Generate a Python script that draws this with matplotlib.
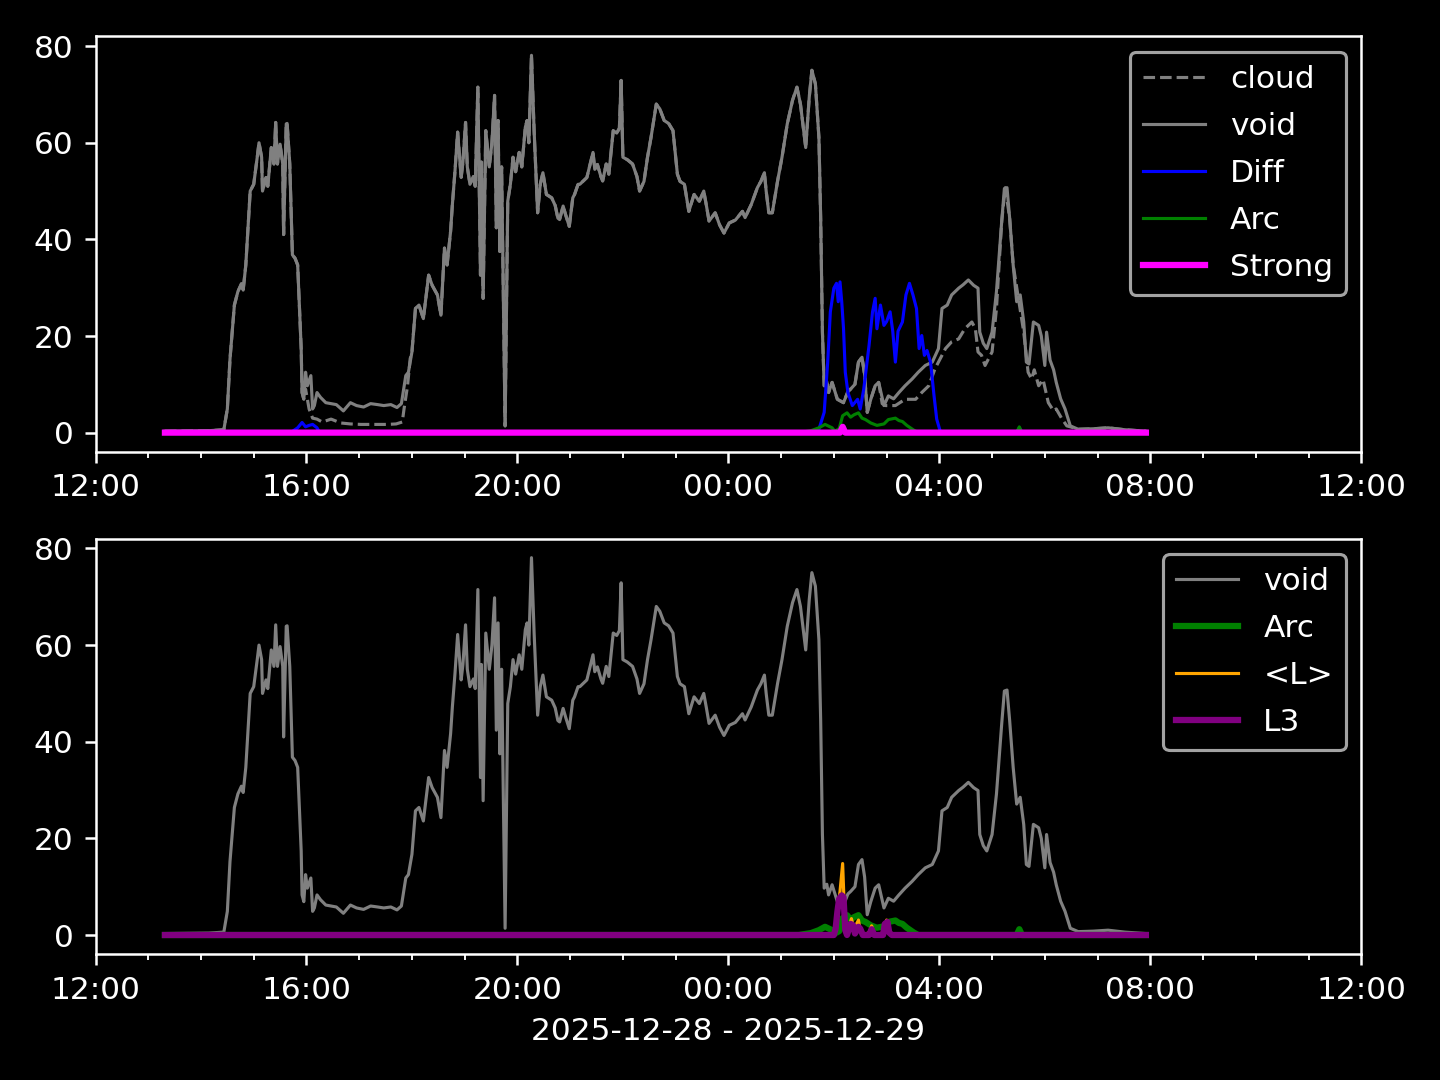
import matplotlib
matplotlib.use("Agg")
import matplotlib.pyplot as plt
import matplotlib.dates as mdates
import pandas as pd

day0 = pd.Timestamp("2025-12-28")


def to_time(clock):
    # "HH:MM" strings; hours before noon belong to the next day
    out = []
    for c in clock:
        h, m = map(int, c.split(":"))
        d = day0 + pd.Timedelta(days=1) if h < 12 else day0
        out.append(d + pd.Timedelta(hours=h, minutes=m))
    return pd.DatetimeIndex(out)


void_t = ["13:19", "14:09", "14:26", "14:30", "14:33", "14:38", "14:42", "14:46", "14:48", "14:51",
          "14:56", "15:00", "15:04", "15:06", "15:09", "15:10", "15:14", "15:16", "15:20", "15:23",
          "15:25", "15:27", "15:30", "15:33", "15:34", "15:37", "15:38", "15:41", "15:44", "15:47",
          "15:50", "15:54", "15:55", "15:57", "15:59", "16:01", "16:05", "16:07", "16:09", "16:12",
          "16:16", "16:22", "16:28", "16:34", "16:42", "16:50", "16:57", "17:05", "17:13", "17:21",
          "17:28", "17:36", "17:43", "17:48", "17:53", "17:56", "18:00", "18:04", "18:08", "18:13",
          "18:19", "18:23", "18:29", "18:33", "18:37", "18:40", "18:44", "18:46", "18:49", "18:52",
          "18:56", "18:58", "19:01", "19:03", "19:06", "19:10", "19:12", "19:15", "19:18", "19:19",
          "19:21", "19:24", "19:28", "19:31", "19:34", "19:36", "19:38", "19:40", "19:42", "19:46",
          "19:49", "19:52", "19:55", "19:58", "20:02", "20:05", "20:09", "20:11", "20:13", "20:16",
          "20:19", "20:23", "20:26", "20:29", "20:33", "20:39", "20:43", "20:46", "20:48", "20:52",
          "20:55", "20:59", "21:03", "21:05", "21:09", "21:11", "21:19", "21:22", "21:26", "21:28",
          "21:31", "21:35", "21:37", "21:41", "21:44", "21:49", "21:53", "21:56", "21:58", "22:00",
          "22:05", "22:11", "22:16", "22:19", "22:24", "22:28", "22:32", "22:38", "22:42", "22:47",
          "22:52", "22:57", "23:02", "23:05", "23:10", "23:15", "23:21", "23:27", "23:32", "23:35",
          "23:38", "23:45", "23:50", "23:55", "00:01", "00:08", "00:16", "00:19", "00:26", "00:33",
          "00:37", "00:41", "00:43", "00:46", "00:50", "00:56", "01:01", "01:07", "01:13", "01:18",
          "01:22", "01:28", "01:32", "01:35", "01:39", "01:43", "01:45", "01:47", "01:49", "01:52",
          "01:54", "01:58", "02:04", "02:11", "02:16", "02:19", "02:24", "02:28", "02:32", "02:35",
          "02:38", "02:42", "02:47", "02:51", "02:57", "03:02", "03:08", "03:14", "03:21", "03:29",
          "03:36", "03:44", "03:52", "03:59", "04:03", "04:09", "04:14", "04:22", "04:27", "04:33",
          "04:39", "04:44", "04:46", "04:50", "04:54", "05:00", "05:05", "05:11", "05:14", "05:17",
          "05:20", "05:24", "05:28", "05:32", "05:36", "05:39", "05:42", "05:47", "05:53", "05:56",
          "06:00", "06:02", "06:06", "06:10", "06:13", "06:18", "06:23", "06:29", "06:38", "06:55",
          "07:12", "07:31", "07:55"]
void_v = [0.3, 0.4, 0.6, 4.9, 15.2, 26.4, 29.2, 30.8, 29.5, 34.7,
          50.0, 51.4, 57.0, 60.0, 57.0, 50.0, 52.8, 51.0, 59.0, 55.6,
          64.2, 55.6, 59.7, 55.6, 41.0, 63.9, 64.0, 55.6, 36.8, 36.1,
          34.7, 17.4, 8.3, 6.9, 12.5, 9.7, 11.8, 4.9, 5.6, 8.3,
          7.3, 6.2, 6.0, 5.8, 4.5, 6.2, 5.6, 5.3, 6.0, 5.8,
          5.6, 5.8, 5.2, 6.0, 11.8, 12.5, 16.7, 25.7, 26.4, 23.6,
          32.6, 30.5, 28.5, 24.3, 38.2, 34.7, 41.7, 47.2, 54.2, 62.2,
          52.8, 56.0, 64.2, 55.0, 51.4, 53.0, 51.0, 71.5, 32.6, 56.0,
          27.8, 62.5, 55.0, 60.0, 69.8, 42.4, 64.6, 37.5, 55.0, 1.4,
          47.9, 51.4, 57.0, 54.0, 58.0, 55.0, 63.2, 64.6, 60.0, 78.1,
          62.5, 45.5, 51.4, 53.8, 49.3, 48.6, 47.0, 44.4, 44.1, 46.9,
          45.0, 42.7, 48.6, 49.3, 51.4, 51.4, 52.8, 55.0, 58.0, 54.5,
          55.5, 53.0, 52.1, 55.6, 53.5, 62.5, 62.0, 63.0, 72.9, 57.0,
          56.5, 55.6, 53.0, 50.0, 52.0, 57.0, 61.1, 68.0, 67.0, 64.6,
          64.0, 62.5, 53.5, 52.0, 51.4, 45.8, 49.3, 47.9, 50.0, 47.0,
          43.8, 45.5, 43.0, 41.3, 43.4, 44.0, 45.8, 44.5, 47.2, 50.7,
          52.0, 53.8, 50.0, 45.5, 45.5, 52.1, 57.0, 63.9, 68.8, 71.5,
          68.0, 59.0, 69.4, 75.0, 72.2, 61.1, 44.4, 20.8, 9.7, 10.5,
          8.3, 10.4, 6.9, 6.2, 8.5, 9.0, 10.0, 14.6, 15.6, 12.0,
          4.2, 6.9, 9.7, 10.4, 5.6, 7.6, 7.0, 8.3, 9.7, 11.1,
          12.5, 13.9, 14.6, 17.4, 25.7, 26.4, 28.5, 29.9, 30.6, 31.6,
          30.5, 29.9, 20.8, 18.5, 17.4, 20.8, 29.2, 43.8, 50.5, 50.7,
          44.4, 34.7, 27.1, 28.5, 22.9, 14.6, 14.2, 22.9, 22.2, 20.0,
          13.9, 20.8, 15.0, 13.0, 10.4, 7.0, 4.9, 1.4, 0.7, 0.8,
          1.0, 0.6, 0.3]

# cloud differs from void only in these two windows
cloud_a_t = ["15:57", "15:59", "16:03", "16:07", "16:12", "16:18", "16:28", "16:39", "16:50",
             "17:02", "17:15", "17:32", "17:42", "17:49", "17:51", "17:55", "17:58"]
cloud_a_v = [6.9, 9.0, 4.9, 3.0, 2.8, 2.2, 2.8, 2.0, 1.8,
             1.7, 1.7, 1.7, 1.8, 2.2, 4.9, 9.7, 15.3]
cloud_b_t = ["02:51", "02:55", "02:59", "03:10", "03:21", "03:33", "03:40", "03:48", "03:55",
             "04:01", "04:07", "04:14", "04:22", "04:29", "04:37", "04:41", "04:44", "04:48",
             "04:52", "05:00", "05:05", "05:11", "05:15", "05:20", "05:24", "05:30", "05:36",
             "05:41", "05:45", "05:48", "05:53", "05:58", "06:04", "06:10", "06:13", "06:19",
             "06:25", "06:29"]
cloud_b_v = [10.4, 6.0, 5.6, 5.6, 6.9, 6.9, 8.3, 9.7, 13.2,
             15.3, 17.4, 18.8, 19.4, 21.5, 22.9, 21.5, 16.7, 16.0,
             13.9, 16.7, 25.7, 43.8, 50.7, 44.4, 34.7, 27.8, 20.8,
             12.5, 11.1, 13.0, 9.7, 11.0, 6.2, 4.5, 4.9, 3.0,
             1.4, 1.2]

diff_t = ["13:19", "15:42", "15:50", "15:55", "15:59", "16:03", "16:07", "16:12", "16:15",
          "01:37", "01:43", "01:49", "01:53", "01:56", "02:00", "02:03", "02:05", "02:07",
          "02:09", "02:11", "02:13", "02:16", "02:21", "02:27", "02:30", "02:34", "02:40",
          "02:44", "02:47", "02:49", "02:53", "02:57", "03:00", "03:04", "03:07", "03:10",
          "03:13", "03:18", "03:22", "03:26", "03:30", "03:34", "03:37", "03:40", "03:43",
          "03:46", "03:50", "03:54", "03:57", "04:01", "04:04", "05:28", "05:31", "05:34",
          "07:55"]
diff_v = [0, 0, 1.0, 2.1, 1.2, 1.5, 1.7, 1.0, 0,
          0, 0.7, 4.2, 14.6, 25.0, 29.9, 30.9, 27.1, 31.2,
          27.0, 21.5, 12.5, 8.3, 5.6, 6.9, 4.9, 9.0, 18.0,
          25.0, 27.8, 21.5, 26.4, 22.2, 23.0, 25.0, 21.0, 14.6,
          21.0, 22.9, 28.5, 30.9, 28.5, 25.7, 17.4, 20.1, 16.0,
          17.0, 14.6, 7.6, 2.8, 0.3, 0, 0, 1.0, 0,
          0]

arc_t = ["13:19", "01:20", "01:34", "01:43", "01:50", "01:58", "02:01", "02:06", "02:10",
         "02:15", "02:19", "02:23", "02:28", "02:32", "02:36", "02:42", "02:49", "02:57",
         "03:02", "03:10", "03:14", "03:18", "03:23", "03:31", "03:36", "05:28", "05:31",
         "05:34", "07:55"]
arc_v = [0, 0, 0.4, 1.0, 1.7, 1.0, 0.3, 0.8, 3.5,
         4.1, 3.2, 3.7, 4.1, 3.0, 2.7, 2.0, 1.5, 1.8,
         2.7, 3.0, 2.5, 2.3, 1.5, 0.5, 0, 0, 1.2,
         0, 0]

strong_t = ["13:19", "02:07", "02:10", "02:13", "07:55"]
strong_v = [0, 0, 1.2, 0, 0]

l_t = ["13:19", "02:01", "02:04", "02:07", "02:10", "02:12", "02:14", "02:17", "02:20",
       "02:23", "02:25", "02:28", "02:30", "02:33", "02:40", "02:43", "02:46", "02:57",
       "03:00", "03:02", "03:05", "07:55"]
l_v = [0, 0, 4.8, 9.0, 14.8, 5.0, 0, 1.5, 3.4,
       1.0, 2.0, 3.1, 1.0, 0, 0.5, 1.9, 0, 0.5,
       3.1, 0.5, 0, 0]

l3_t = ["13:19", "02:00", "02:02", "02:04", "02:06", "02:09", "02:11", "02:13", "02:15",
        "02:19", "02:22", "02:24", "02:28", "02:30", "02:33", "02:40", "02:43", "02:46",
        "02:56", "02:58", "03:01", "03:03", "03:06", "07:55"]
l3_v = [0, 0, 1.3, 4.8, 7.5, 8.2, 7.8, 1.0, 0,
        2.3, 2.0, 0.3, 1.7, 1.3, 0, 0, 1.2, 0,
        0, 2.3, 2.7, 0.5, 0, 0]

void = pd.Series(void_v, index=to_time(void_t))
win_a = pd.Series(cloud_a_v, index=to_time(cloud_a_t))
win_b = pd.Series(cloud_b_v, index=to_time(cloud_b_t))
cloud = pd.concat([
    void[void.index < win_a.index[0]], win_a,
    void[(void.index > win_a.index[-1]) & (void.index < win_b.index[0])], win_b,
    void[void.index > win_b.index[-1]],
])

plt.style.use("dark_background")
fig, (ax1, ax2) = plt.subplots(2, 1, figsize=(6.4, 4.8), dpi=225)

ax1.plot(cloud.index, cloud.values, color="grey", ls="--", lw=1, label="cloud")
ax1.plot(void.index, void.values, color="grey", lw=1, label="void")
ax1.plot(to_time(diff_t), diff_v, color="blue", lw=1, label="Diff")
ax1.plot(to_time(arc_t), arc_v, color="green", lw=1, label="Arc")
ax1.plot(to_time(strong_t), strong_v, color="magenta", lw=2, label="Strong")
ax1.legend(loc="upper right", labelspacing=0.58)

ax2.plot(void.index, void.values, color="grey", lw=1, label="void")
ax2.plot(to_time(arc_t), arc_v, color="green", lw=2, label="Arc")
ax2.plot(to_time(l_t), l_v, color="orange", lw=1, label="<L>")
ax2.plot(to_time(l3_t), l3_v, color="purple", lw=2, label="L3")
ax2.legend(loc="upper right", labelspacing=0.58)
ax2.set_xlabel("2025-12-28 - 2025-12-29")

for ax in (ax1, ax2):
    ax.set_xlim(day0 + pd.Timedelta(hours=12), day0 + pd.Timedelta(hours=36))
    ax.xaxis.set_major_locator(mdates.HourLocator(byhour=[0, 4, 8, 12, 16, 20]))
    ax.xaxis.set_minor_locator(mdates.HourLocator())
    ax.xaxis.set_major_formatter(mdates.DateFormatter("%H:%M"))

fig.tight_layout()
fig.savefig("out.png")
